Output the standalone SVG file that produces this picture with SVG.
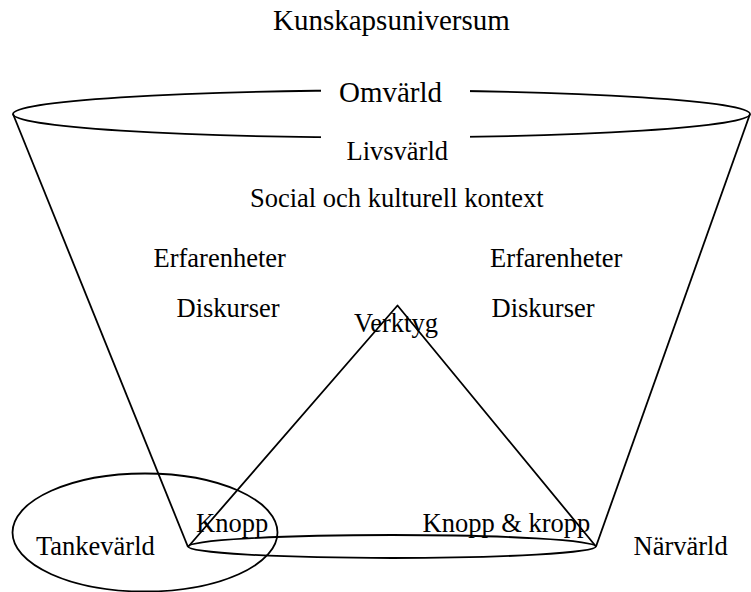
<svg xmlns="http://www.w3.org/2000/svg" width="751" height="592" viewBox="0 0 751 592">
  <style>
    .ln { fill: none; stroke: #000; stroke-width: 1.8; stroke-linejoin: round; }
    .t { font-family: "Liberation Serif", "Times New Roman", serif; font-size: 26.5px; fill: #000; }
    .big { font-size: 29px; }
  </style>
  <rect width="751" height="592" fill="#fff"/>

  <!-- knowledge universe: funnel -->
  <g id="funnel">
    <ellipse class="ln" cx="381.5" cy="114" rx="368.5" ry="23.5"/>
    <line class="ln" x1="13" y1="114" x2="188" y2="547"/>
    <line class="ln" x1="750" y1="114" x2="596" y2="546.5"/>
    <ellipse class="ln" cx="392" cy="546.5" rx="204" ry="11.5"/>
  </g>

  <!-- tool triangle -->
  <g id="triangle">
    <polyline class="ln" points="188,547 397.5,305.5 596,546.5"/>
  </g>

  <!-- thought world -->
  <g id="tankevarld">
    <ellipse class="ln" cx="145" cy="532.5" rx="132.5" ry="59"/>
    <text class="t" x="36" y="555">Tankevärld</text>
  </g>

  <g id="title">
    <text class="t big" x="273" y="30">Kunskapsuniversum</text>
  </g>

  <g id="omvarld">
    <rect x="321" y="86" width="149" height="56" fill="#fff"/>
    <text class="t big" x="339" y="102">Omvärld</text>
  </g>

  <g id="livsvarld">
    <text class="t" x="346.5" y="160">Livsvärld</text>
  </g>

  <g id="kontext">
    <text class="t" x="250" y="206.5">Social och kulturell kontext</text>
  </g>

  <g id="vanster">
    <text class="t" x="153.5" y="266.5">Erfarenheter</text>
    <text class="t" x="176.5" y="316.5">Diskurser</text>
  </g>

  <g id="hoger">
    <text class="t" x="490" y="267">Erfarenheter</text>
    <text class="t" x="491.5" y="316.5">Diskurser</text>
  </g>

  <g id="verktyg">
    <text class="t" x="354" y="331.5">Verktyg</text>
  </g>

  <g id="knopp">
    <text class="t" x="196" y="531.5">Knopp</text>
  </g>

  <g id="knopp-kropp">
    <text class="t" x="422.5" y="531.5">Knopp &amp; kropp</text>
  </g>

  <g id="narvarld">
    <text class="t" x="633.5" y="555">Närvärld</text>
  </g>
</svg>
